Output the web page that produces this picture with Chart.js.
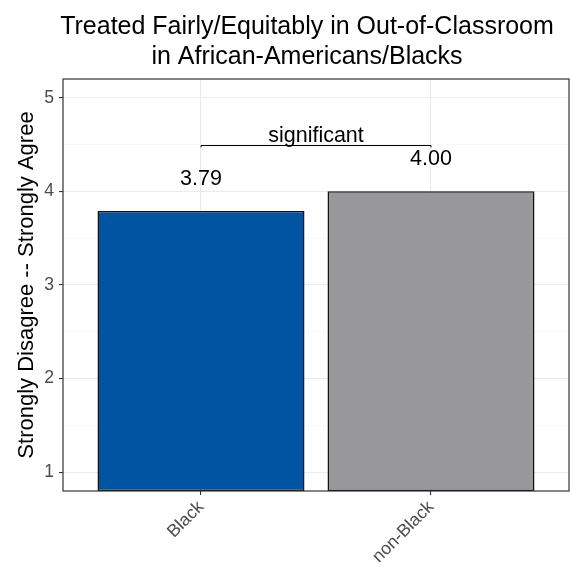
<!DOCTYPE html>
<html>
<head>
<meta charset="utf-8">
<script src="https://cdn.jsdelivr.net/npm/chart.js@4/dist/chart.umd.min.js"></script>
<style>
  html, body { margin: 0; padding: 0; background: #ffffff; }
  #wrap { width: 570px; height: 567px; }
</style>
</head>
<body>
<div id="wrap"><canvas id="chart" width="570" height="567"></canvas></div>
<script>
// Survey result: mean agreement by group
const titleLines = ['Treated Fairly/Equitably in Out-of-Classroom', 'in African-Americans/Blacks'];
const yAxisTitle = 'Strongly Disagree -- Strongly Agree';
const categories = ['Black', 'non-Black'];
const means = [3.79, 4.00];
const barColors = ['#0054A2', '#98989A'];
const yMajorTicks = [1, 2, 3, 4, 5];
const yMinorTicks = [1.5, 2.5, 3.5, 4.5];
const yRange = [0.8, 5.2];
const xRange = [0.4, 2.6];
const bracket = { from: 1, to: 2, y: 4.5, label: 'significant' };

const FONT = '"Liberation Sans", Arial, Helvetica, sans-serif';
const positions = categories.map((c, i) => i + 1);
const yTickValues = yMajorTicks.concat(yMinorTicks).sort((a, b) => a - b);
const isMajor = v => yMajorTicks.includes(v);

// Title, y title, panel border, value labels and significance bracket
const annotations = {
  id: 'annotations',
  afterDatasetsDraw(chart) {
    const { ctx, chartArea: a, scales: { x, y } } = chart;
    ctx.save();
    // value labels above bars
    ctx.fillStyle = '#000';
    ctx.font = '21.5px ' + FONT;
    ctx.textAlign = 'center';
    ctx.textBaseline = 'middle';
    means.forEach((v, i) => {
      ctx.fillText(v.toFixed(2), x.getPixelForValue(positions[i]), y.getPixelForValue(v) - 32);
    });
    // significance bracket
    const x1 = x.getPixelForValue(bracket.from), x2 = x.getPixelForValue(bracket.to);
    const yb = Math.round(y.getPixelForValue(bracket.y)) + 0.5;
    const tip = y.getPixelForValue(bracket.y - 0.03);
    ctx.strokeStyle = '#000';
    ctx.lineWidth = 1;
    ctx.beginPath();
    ctx.moveTo(x1, tip); ctx.lineTo(x1, yb); ctx.lineTo(x2, yb); ctx.lineTo(x2, tip);
    ctx.stroke();
    ctx.textBaseline = 'alphabetic';
    ctx.fillText(bracket.label, (x1 + x2) / 2, yb - 4);
    // panel border
    ctx.strokeStyle = '#333333';
    ctx.lineWidth = 1.2;
    ctx.strokeRect(a.left, a.top, a.right - a.left, a.bottom - a.top);
    ctx.restore();
  },
  afterDraw(chart) {
    const { ctx, chartArea: a } = chart;
    ctx.save();
    ctx.fillStyle = '#000';
    ctx.textAlign = 'center';
    ctx.textBaseline = 'alphabetic';
    ctx.font = '25px ' + FONT;
    const cx = (a.left + a.right) / 2 - 9;
    ctx.fillText(titleLines[0], cx, 34);
    ctx.fillText(titleLines[1], cx, 64);
    ctx.font = '22px ' + FONT;
    ctx.translate(33, (a.top + a.bottom) / 2);
    ctx.rotate(-Math.PI / 2);
    ctx.fillText(yAxisTitle, 0, 0);
    ctx.restore();
  }
};

new Chart(document.getElementById('chart'), {
  type: 'bar',
  data: {
    datasets: [{
      data: means.map((v, i) => ({ x: positions[i], y: v })),
      backgroundColor: barColors,
      borderColor: '#111111',
      borderWidth: 1.5,
      borderSkipped: false,
      base: yRange[0],
      barPercentage: 0.9,
      categoryPercentage: 1.0
    }]
  },
  options: {
    responsive: false,
    animation: false,
    layout: { padding: { top: 79, right: 1, left: 0, bottom: 0 } },
    plugins: { legend: { display: false }, tooltip: { enabled: false }, title: { display: false } },
    scales: {
      x: {
        type: 'linear',
        offset: false,
        min: xRange[0],
        max: xRange[1],
        afterBuildTicks: s => { s.ticks = positions.map(v => ({ value: v })); },
        afterFit: s => { s.height = 76; },
        grid: { offset: false, color: '#EBEBEB', lineWidth: 1.1, tickColor: '#333333', tickLength: 4 },
        border: { display: false },
        ticks: {
          autoSkip: false,
          minRotation: 45,
          maxRotation: 45,
          padding: 2,
          color: '#4D4D4D',
          font: { family: FONT, size: 17.6 },
          callback: v => categories[positions.indexOf(v)] ?? ''
        }
      },
      y: {
        min: yRange[0],
        max: yRange[1],
        afterBuildTicks: s => { s.ticks = yTickValues.map(v => ({ value: v })); },
        afterFit: s => { s.width = 63; },
        grid: {
          color: c => isMajor(c.tick.value) ? '#EBEBEB' : '#F4F4F4',
          lineWidth: c => isMajor(c.tick.value) ? 1.1 : 0.7,
          tickColor: c => isMajor(c.tick.value) ? '#333333' : 'rgba(0,0,0,0)',
          tickLength: 4
        },
        border: { display: false },
        ticks: {
          autoSkip: false,
          padding: 5,
          color: '#4D4D4D',
          font: { family: FONT, size: 17.6 },
          callback: v => isMajor(v) ? String(v) : ''
        }
      }
    }
  },
  plugins: [annotations]
});
</script>
</body>
</html>
